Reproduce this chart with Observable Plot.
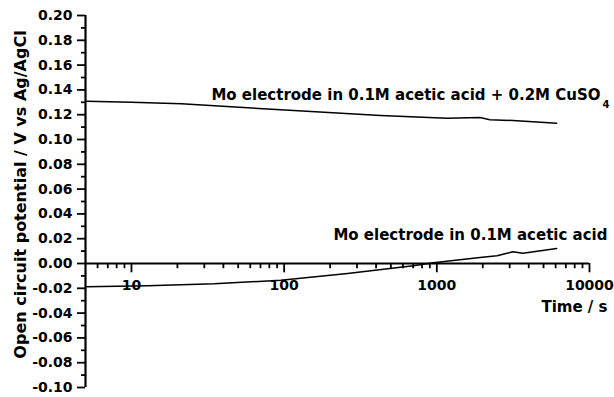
<!DOCTYPE html>
<html><head><meta charset="utf-8">
<script src="https://cdn.jsdelivr.net/npm/d3@7"></script>
<script src="https://cdn.jsdelivr.net/npm/@observablehq/plot@0.6"></script>
<style>body{margin:0;background:#fff}</style>
</head><body><div id="chart"></div>
<script>
// Mo electrode in 0.1M acetic acid + 0.2M CuSO4
const timeCu = [5.08, 10, 21.2, 45, 95, 428, 1169, 1919, 2228, 3149, 6095];
const potCu  = [0.1309, 0.1301, 0.1288, 0.1264, 0.1240, 0.1194, 0.1172, 0.1177, 0.1159, 0.1153, 0.1131];
// Mo electrode in 0.1M acetic acid
const timeAc = [5.08, 12.8, 34.8, 95, 260, 701, 948, 1919, 2477, 3149, 3666, 6095];
const potAc  = [-0.0188, -0.0180, -0.0164, -0.0135, -0.0081, -0.0019, 0.0006, 0.0048, 0.0062, 0.0094, 0.0083, 0.0121];

const yMajor = [-0.10, -0.08, -0.06, -0.04, -0.02, 0.00, 0.02, 0.04, 0.06, 0.08, 0.10, 0.12, 0.14, 0.16, 0.18, 0.20];
const yMinor = [-0.09, -0.07, -0.05, -0.03, -0.01, 0.01, 0.03, 0.05, 0.07, 0.09, 0.11, 0.13, 0.15, 0.17, 0.19];
const xMajor = [10, 100, 1000, 10000];
const xMinor = [6, 7, 8, 9, 20, 30, 40, 50, 60, 70, 80, 90, 200, 300, 400, 500, 600, 700, 800, 900, 2000, 3000, 4000, 5000, 6000, 7000, 8000, 9000];

const labelCu = "Mo electrode in 0.1M acetic acid + 0.2M CuSO";
const labelCuSub = "4";
const labelAc = "Mo electrode in 0.1M acetic acid";
const xTitle = "Time / s";
const yTitle = "Open circuit potential / V vs Ag/AgCl";

const cu = timeCu.map((t, i) => ({t, v: potCu[i]}));
const ac = timeAc.map((t, i) => ({t, v: potAc[i]}));

const chart = Plot.plot({
  width: 614, height: 397,
  marginLeft: 85, marginRight: 25, marginTop: 15, marginBottom: 10,
  style: {fontFamily: "'DejaVu Sans', sans-serif", fontWeight: "bold", fontSize: "14px", color: "#000", background: "#fff"},
  x: {type: "log", domain: [5, 10000], axis: null},
  y: {domain: [-0.1, 0.2], axis: null},
  marks: [
    Plot.axisY({ticks: yMinor, tickSize: 4, tickFormat: () => "", label: null, strokeWidth: 1.8}),
    Plot.axisY({ticks: yMajor, tickSize: 8, tickPadding: 5, tickFormat: d => d.toFixed(2), label: null, strokeWidth: 1.8, fontSize: 14}),
    Plot.ruleX([5], {strokeWidth: 2.2}),
    Plot.ruleY([0], {x1: 5, x2: 10000, strokeWidth: 2.2}),
    Plot.ruleX(xMinor, {x: d => d, y1: 0, y2: -0.0042, stroke: "#000", strokeWidth: 1.8}),
    Plot.ruleX(xMajor, {x: d => d, y1: 0, y2: -0.0075, stroke: "#000", strokeWidth: 1.8}),
    Plot.text(xMajor, {x: d => d, y: 0, text: d => String(d), dy: 22, fontSize: 14, lineAnchor: "middle"}),
    Plot.line(cu, {x: "t", y: "v", strokeWidth: 1.5, stroke: "#000"}),
    Plot.line(ac, {x: "t", y: "v", strokeWidth: 1.5, stroke: "#000"}),
    Plot.text([labelCu], {frameAnchor: "top-right", dx: 11, dy: 80, textAnchor: "end", lineAnchor: "middle", fontSize: 15}),
    Plot.text([labelCuSub], {frameAnchor: "top-right", dx: 13, dy: 89, textAnchor: "start", lineAnchor: "middle", fontSize: 10}),
    Plot.text([labelAc], {frameAnchor: "top-right", dx: 18, dy: 220, textAnchor: "end", lineAnchor: "middle", fontSize: 15}),
    Plot.text([xTitle], {frameAnchor: "top-right", dx: 18, dy: 292, textAnchor: "end", lineAnchor: "middle", fontSize: 15}),
    Plot.text([yTitle], {frameAnchor: "left", dx: -65, dy: -7, rotate: -90, textAnchor: "middle", lineAnchor: "middle", fontSize: 16})
  ]
});
document.getElementById("chart").appendChild(chart);
</script>
</body></html>
